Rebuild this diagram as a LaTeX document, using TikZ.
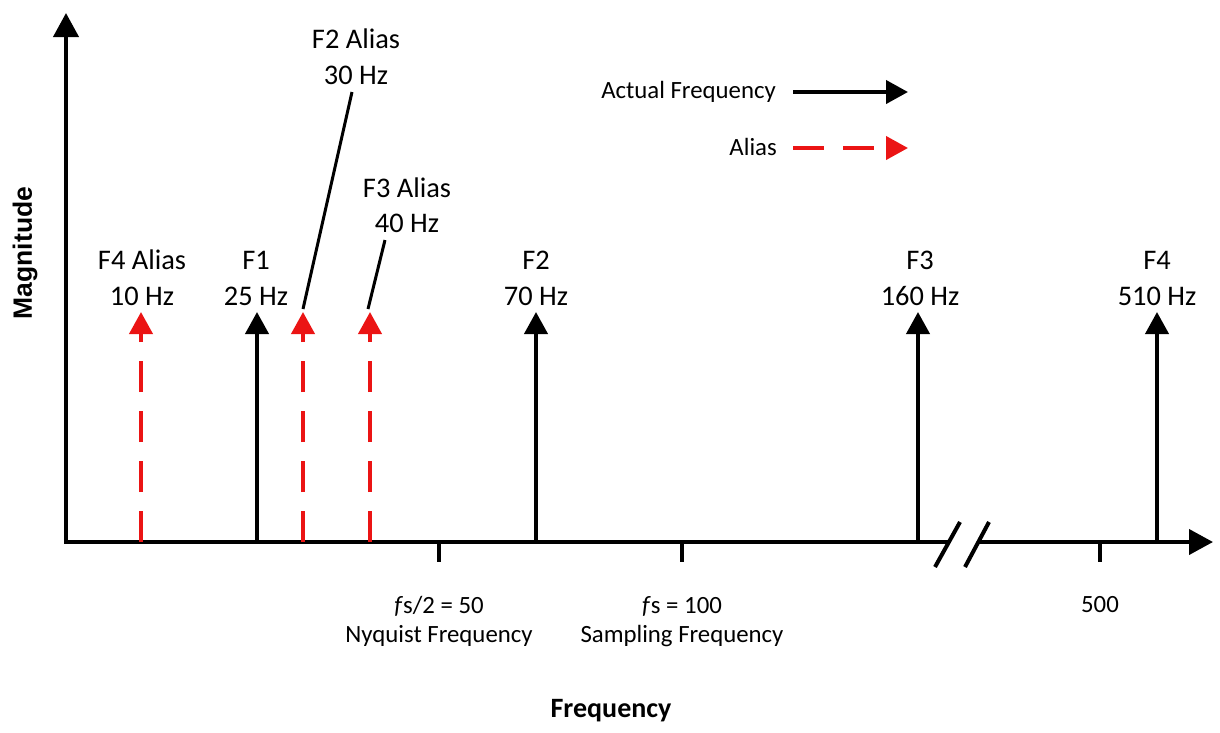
\documentclass[tikz,border=0pt]{standalone}
\usepackage{fontspec}
\setmainfont{Carlito}
\newfontfamily\arialfont{Liberation Sans}
\usetikzlibrary{arrows.meta}
\definecolor{aliasred}{RGB}{235,20,20}
\begin{document}
\begin{tikzpicture}[x=1pt,y=-1pt,
  lbl/.style={anchor=base,inner sep=0pt,font=\fontsize{24.8}{29}\selectfont},
  toplbl/.style={anchor=base,inner sep=0pt,font=\fontsize{28.4}{34}\selectfont},
  axisline/.style={line width=4pt,line join=miter},
  bigtip/.style={-{Triangle[length=24pt,width=25pt]}},
  act/.style={line width=4pt,-{Triangle[length=22pt,width=23pt]}},
  aliasarrow/.style={line width=4pt,draw=aliasred,dash pattern=on 31pt off 19pt,
    -{Triangle[length=22pt,width=23pt,fill=aliasred]}},
  lead/.style={line width=3pt},
  tickmark/.style={line width=3.5pt},
  brk/.style={line width=4pt}]
\useasboundingbox (0,0) rectangle (1220,732);

% axes
\coordinate (ytop) at (66,13);
\coordinate (o) at (66,542);
\coordinate (brkL) at (949,542);
\coordinate (brkR) at (979,542);
\coordinate (xend) at (1213,542);
\draw[axisline,{Triangle[length=24pt,width=25pt]}-] (ytop) -- (o) -- (brkL);
\draw[axisline,bigtip] (brkR) -- (xend);
% break marks
\coordinate (s1a) at (935,567); \coordinate (s1b) at (960,522);
\coordinate (s2a) at (965,567); \coordinate (s2b) at (989,522);
\draw[brk] (s1a) -- (s1b);
\draw[brk] (s2a) -- (s2b);

% ticks
\foreach \x/\n in {439/ta,682/tb,1100/tc}{
  \coordinate (\n0) at (\x,542); \coordinate (\n1) at (\x,562);
  \draw[tickmark] (\n0) -- (\n1);
}

% actual frequencies
\foreach \x/\n in {257/f1,536/f2,918/f3,1157/f4}{
  \coordinate (\n b) at (\x,542); \coordinate (\n t) at (\x,312);
  \draw[act] (\n b) -- (\n t);
}
% aliases
\foreach \x/\n in {141/a4,303/a2,370/a3}{
  \coordinate (\n b) at (\x,542); \coordinate (\n t) at (\x,312);
  \draw[aliasarrow] (\n b) -- (\n t);
}

% labels above arrows
\node[toplbl] (l4a) at (142,269) {F4 Alias};
\node[toplbl] (l4b) at (142,305) {10 Hz};
\node[toplbl] (l1a) at (256,269) {F1};
\node[toplbl] (l1b) at (256,305) {25 Hz};
\node[toplbl] (l2a) at (536,269) {F2};
\node[toplbl] (l2b) at (536,305) {70 Hz};
\node[toplbl] (l3a) at (920,269) {F3};
\node[toplbl] (l3b) at (920,305) {160 Hz};
\node[toplbl] (l5a) at (1157,269) {F4};
\node[toplbl] (l5b) at (1157,305) {510 Hz};

\node[toplbl] (la2a) at (356,48) {F2 Alias};
\node[toplbl] (la2b) at (356,84) {30 Hz};
\node[toplbl] (la3a) at (407,197) {F3 Alias};
\node[toplbl] (la3b) at (407,232) {40 Hz};
% leader lines
\coordinate (ld2a) at (352,92); \coordinate (ld2b) at (303,309);
\coordinate (ld3a) at (385,240); \coordinate (ld3b) at (368,309);
\draw[lead] (ld2a) -- (ld2b);
\draw[lead] (ld3a) -- (ld3b);

% legend
\node[lbl,anchor=base east] (legA) at (776,98) {Actual Frequency};
\coordinate (legA1) at (793,92); \coordinate (legA2) at (908,92);
\draw[act] (legA1) -- (legA2);
\node[lbl,anchor=base east] (legB) at (777,155) {Alias};
\coordinate (legB1) at (793,148); \coordinate (legB2) at (908,148);
\draw[aliasarrow] (legB1) -- (legB2);

% axis value labels
\node[lbl] (ny1) at (439,613) {\textit{f}s/2 = 50};
\node[lbl] (ny2) at (439,642) {Nyquist Frequency};
\node[lbl] (sa1) at (682,613) {\textit{f}s = 100};
\node[lbl] (sa2) at (682,642) {Sampling Frequency};
\node[lbl] (v500) at (1100,612) {500};

% axis titles
\node[anchor=base,inner sep=0pt,font=\fontsize{28}{34}\selectfont\bfseries] (xt) at (611,717) {Frequency};
\node[inner sep=0pt,rotate=90,font=\arialfont\fontsize{26.5}{31}\selectfont\bfseries] (yt) at (25,253) {Magnitude};
\end{tikzpicture}
\end{document}
